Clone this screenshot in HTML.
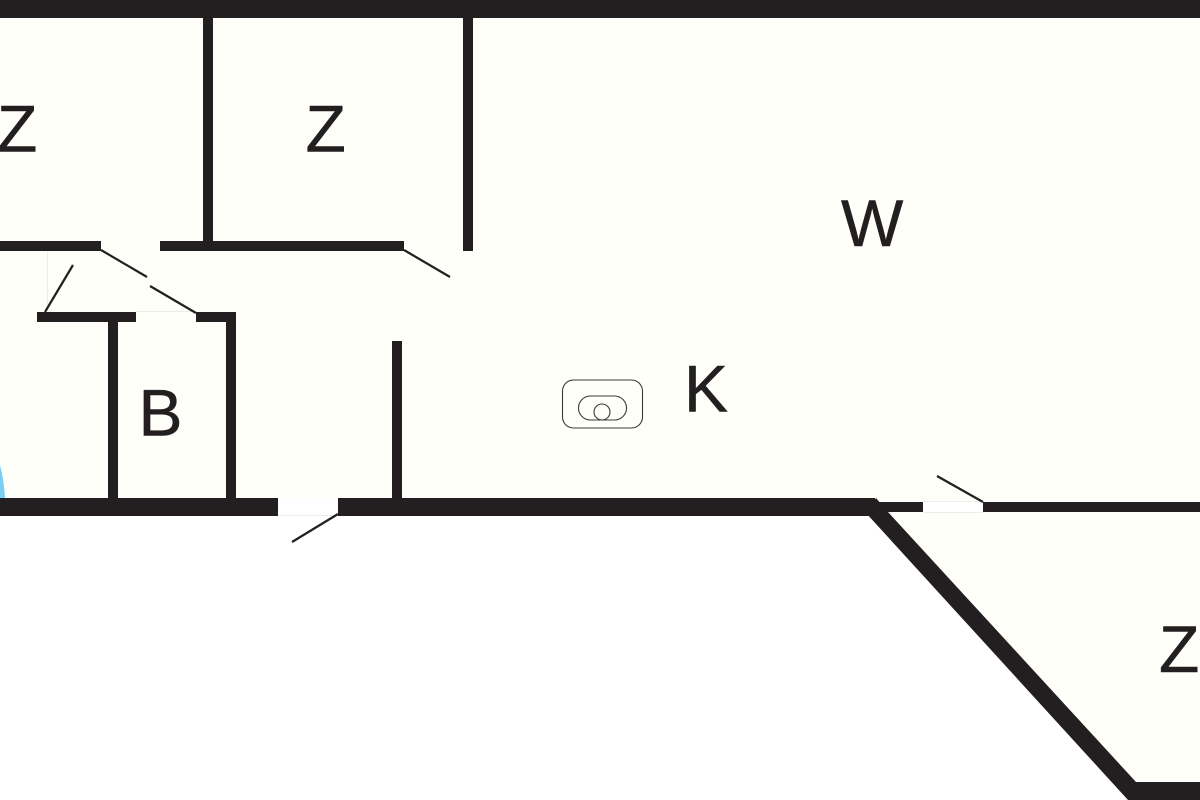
<!DOCTYPE html>
<html>
<head>
<meta charset="utf-8">
<style>
html,body{margin:0;padding:0;background:#fff;}
svg{display:block;}
text{font-family:"Liberation Sans",sans-serif;fill:#231f20;font-size:66px;stroke:#231f20;stroke-width:.5px;}
</style>
</head>
<body>
<svg width="1200" height="800" viewBox="0 0 1200 800" xmlns="http://www.w3.org/2000/svg">
<rect width="1200" height="800" fill="#fff"/>
<polygon points="0,0 1200,0 1200,800 1130,800 870,510 0,510" fill="#fffffa"/>
<path d="M0,465 Q4,480 5,498 L0,498 Z" fill="#7ccdf2"/>
<g fill="#ffffff">
<rect x="278" y="498" width="60" height="18"/>
<rect x="923" y="501" width="60" height="11"/>
</g>
<g stroke="#ecece8" stroke-width="1" fill="none">
<line x1="278" y1="515.500" x2="338" y2="515.500"/>
<line x1="923" y1="501.500" x2="983" y2="501.500"/>
<line x1="923" y1="512.500" x2="983" y2="512.500"/>
<line x1="136" y1="311.500" x2="196" y2="311.500"/>
<line x1="47.500" y1="252" x2="47.500" y2="311"/>
</g>
<g fill="#231f20">
<rect x="0" y="0" width="1200" height="18"/>
<rect x="203" y="18" width="10" height="225"/>
<rect x="463" y="18" width="10" height="233"/>
<rect x="0" y="241" width="101" height="10"/>
<rect x="160" y="241" width="244" height="10"/>
<rect x="37" y="312" width="99" height="10"/>
<rect x="196" y="312" width="40" height="10"/>
<rect x="108" y="322" width="10" height="177"/>
<rect x="226" y="322" width="10" height="177"/>
<rect x="392" y="341" width="10" height="158"/>
<rect x="0" y="498" width="278" height="18"/>
<rect x="338" y="498" width="537" height="18"/>
<rect x="875" y="502" width="48" height="10"/>
<rect x="983" y="502" width="217" height="10"/>
<polygon points="866,513 876,498 888,512 1136,782 1200,782 1200,800 1128,800"/>
</g>
<g stroke="#231f20" stroke-width="2.200" fill="none">
<line x1="101" y1="250" x2="147" y2="277"/>
<line x1="150" y1="286" x2="196" y2="313"/>
<line x1="404" y1="250" x2="450" y2="277"/>
<line x1="45" y1="312" x2="73" y2="265"/>
<line x1="338" y1="514" x2="292" y2="542"/>
<line x1="983" y1="502" x2="937" y2="476"/>
</g>
<g stroke="#3a3a3a" stroke-width="1.100" fill="none">
<rect x="562.500" y="380" width="80" height="48" rx="11"/>
<rect x="578.500" y="396" width="48" height="24" rx="12"/>
<circle cx="602" cy="412" r="8"/>
</g>
<text x="-3" y="151.500">Z</text>
<text x="305.500" y="151.500">Z</text>
<text x="841" y="246">W</text>
<text x="684" y="411.500">K</text>
<text x="138.500" y="435.500">B</text>
<text x="1159" y="672">Z</text>
</svg>
</body>
</html>
